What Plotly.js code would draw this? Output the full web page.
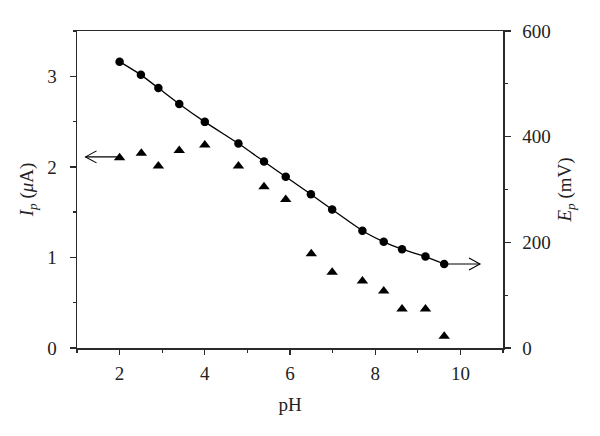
<!DOCTYPE html>
<html>
<head>
<meta charset="utf-8">
<script src="https://cdn.plot.ly/plotly-3.0.1.min.js"></script>
<style>html,body{margin:0;padding:0;background:#fff;}#chart{width:600px;height:436px;}</style>
</head>
<body>
<div id="chart"></div>
<script>
// pH values
var phCircles = [2.0, 2.5, 2.91, 3.4, 4.0, 4.79, 5.39, 5.9, 6.49, 6.99, 7.7, 8.2, 8.63, 9.18, 9.62];
// Peak potential E_p (mV), right axis
var epValues = [542, 517, 492, 462, 428, 387, 353, 324, 291, 262, 222, 201, 187, 173, 159];
// pH values for triangles
var phTriangles = [2.0, 2.51, 2.91, 3.4, 4.0, 4.79, 5.39, 5.9, 6.5, 6.99, 7.7, 8.2, 8.63, 9.18, 9.62];
// Peak current I_p (uA), left axis
var ipValues = [2.10, 2.15, 2.01, 2.18, 2.24, 2.01, 1.78, 1.64, 1.04, 0.835, 0.74, 0.63, 0.43, 0.43, 0.13];
// Axis indicator arrows: [from pH, to pH, value]
var leftArrow = {from: 2.0, to: 1.2, value: 2.11};
var rightArrow = {from: 9.62, to: 10.46, value: 159};

var axisColor = '#2a2a2a';
var fontFam = '"Liberation Serif", "DejaVu Serif", serif';
var tickFont = {family: fontFam, size: 19, color: '#222'};
var titleFont = {family: fontFam, size: 19, color: '#222'};

var traces = [
  {
    x: phCircles, y: epValues, yaxis: 'y2', type: 'scatter', mode: 'lines+markers',
    line: {color: '#000', width: 1.3, shape: 'spline', smoothing: 0.5},
    marker: {symbol: 'circle', size: 8.5, color: '#000'},
    hoverinfo: 'skip', showlegend: false
  },
  {
    x: phTriangles, y: ipValues, yaxis: 'y', type: 'scatter', mode: 'markers',
    marker: {symbol: 'triangle-up', size: 10, color: '#000'},
    hoverinfo: 'skip', showlegend: false
  }
];

function arrowShapes(a, yref, dir) {
  var s = [];
  s.push({type: 'line', xref: 'x', yref: yref, x0: a.from, x1: a.to, y0: a.value, y1: a.value,
          line: {color: '#000', width: 1.1}});
  var back = -dir * 11;
  s.push({type: 'path', xref: 'x', yref: yref, xsizemode: 'pixel', ysizemode: 'pixel',
          xanchor: a.to, yanchor: a.value,
          path: 'M' + back + ',6 L0,0 L' + back + ',-6',
          line: {color: '#000', width: 1.1}});
  return s;
}

var shapes = arrowShapes(leftArrow, 'y', -1).concat(arrowShapes(rightArrow, 'y2', 1));

var layout = {
  width: 600, height: 436,
  margin: {l: 77, r: 97, t: 31, b: 88, pad: 0},
  paper_bgcolor: '#fff', plot_bgcolor: '#fff',
  font: {family: fontFam, size: 19, color: '#222'},
  showlegend: false,
  xaxis: {
    range: [1, 11], tick0: 0, dtick: 2, ticks: 'outside', ticklen: 5, tickwidth: 1.3, tickcolor: axisColor,
    minor: {dtick: 1, tick0: 0, ticks: 'outside', ticklen: 3, tickwidth: 1.3, tickcolor: axisColor, showgrid: false},
    showline: true, linecolor: axisColor, linewidth: 1.5, mirror: true,
    showgrid: false, zeroline: false, ticklabelstandoff: 3,
    tickfont: tickFont,
    title: {text: 'pH', font: titleFont, standoff: 14}
  },
  yaxis: {
    range: [0, 3.5], tick0: 0, dtick: 1, ticks: 'outside', ticklen: 6, tickwidth: 1.3, tickcolor: axisColor,
    minor: {dtick: 0.5, tick0: 0, ticks: 'outside', ticklen: 3, tickwidth: 1.3, tickcolor: axisColor, showgrid: false},
    showline: true, linecolor: axisColor, linewidth: 1.5,
    showgrid: false, zeroline: false, ticklabelstandoff: 9,
    tickfont: tickFont,
    title: {text: '<i>I</i><sub><i>p</i></sub> (<i>μ</i>A)', font: titleFont, standoff: 8}
  },
  yaxis2: {
    overlaying: 'y', side: 'right',
    range: [0, 600], tick0: 0, dtick: 200, ticks: 'outside', ticklen: 6, tickwidth: 1.3, tickcolor: axisColor,
    minor: {dtick: 100, tick0: 0, ticks: 'outside', ticklen: 3, tickwidth: 1.3, tickcolor: axisColor, showgrid: false},
    showline: true, linecolor: axisColor, linewidth: 1.5,
    showgrid: false, zeroline: false, ticklabelstandoff: 8,
    tickfont: tickFont,
    title: {text: '<i>E</i><sub><i>p</i></sub> (mV)', font: titleFont, standoff: 8}
  },
  shapes: shapes
};

Plotly.newPlot('chart', traces, layout, {displayModeBar: false, staticPlot: true});
</script>
</body>
</html>
